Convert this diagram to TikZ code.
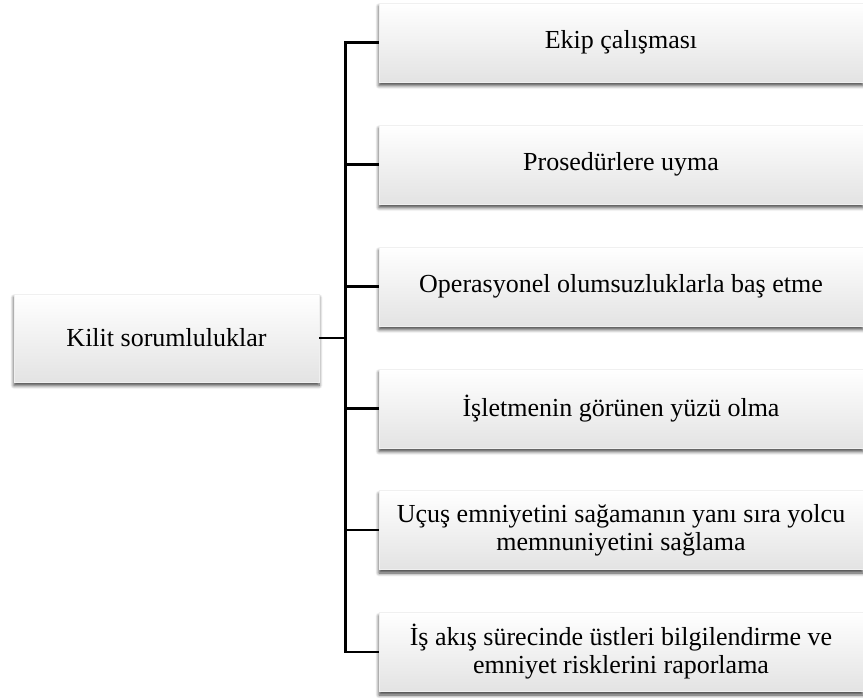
\documentclass[tikz,border=0pt]{standalone}
\usepackage{fontspec}
\setmainfont{Liberation Serif}
\usetikzlibrary{shadows.blur}
\begin{document}
\begin{tikzpicture}[x=1pt,y=-1pt,
  card/.style={draw=black!6, line width=0.3pt,
    top color=white, bottom color=black!11,
    blur shadow={shadow xshift=0pt, shadow yshift=-3.5pt,
      shadow blur radius=3.5pt, shadow blur steps=6, shadow opacity=75},
    align=center, inner sep=0pt,
    font=\fontsize{26}{28}\selectfont},
  rootbox/.style={card, minimum width=305pt, minimum height=88pt},
  itembox/.style={card, minimum width=484pt, minimum height=79pt},
  link/.style={line width=2.4pt}]
\useasboundingbox (0,0) rectangle (863,697);
\clip (0,0) rectangle (863,697);

% root and the six responsibilities
\node[rootbox] (root) at (166.5,338) {Kilit sorumluluklar};
\node[itembox] (b1) at (621,42.5)  {Ekip çalışması};
\node[itembox] (b2) at (621,164.5) {Prosedürlere uyma};
\node[itembox] (b3) at (621,286.5) {Operasyonel olumsuzluklarla baş etme};
\node[itembox] (b4) at (621,408.5) {İşletmenin görünen yüzü olma};
\node[itembox] (b5) at (621,530)   {Uçuş emniyetini sağamanın yanı sıra yolcu\\memnuniyetini sağlama};
\node[itembox] (b6) at (621,652)   {İş akış sürecinde üstleri bilgilendirme ve\\emniyet risklerini raporlama};

% bracket connectors
\coordinate (spine) at (345.5,0);
\draw[link] (root.east) -- (root.east -| spine);
\draw[link] (b1.west) -- (b1.west -| spine) -- (b6.west -| spine) -- (b6.west);
\foreach \b in {b2,b3,b4,b5}
  \draw[link] (\b.west) -- (\b.west -| spine);
\end{tikzpicture}
\end{document}
